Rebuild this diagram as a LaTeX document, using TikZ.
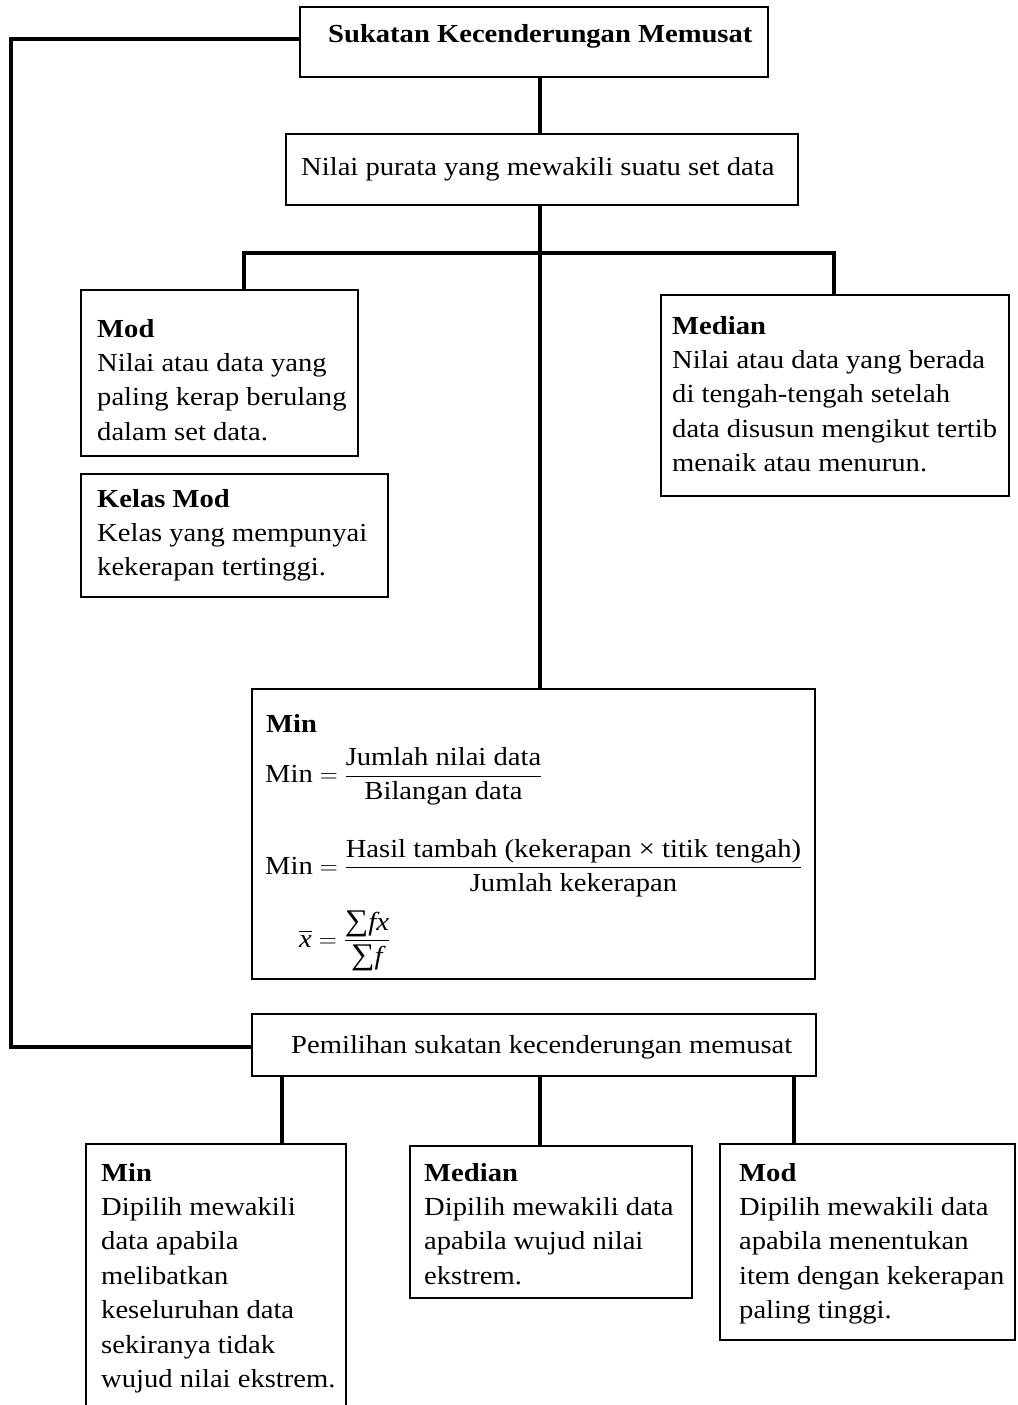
\documentclass[tikz,border=0pt]{standalone}
\usepackage{amsmath}
\usepackage{fontspec}
\setmainfont{Liberation Serif}[FakeStretch=1.1]
\newcommand\bodyfont{\fontsize{26}{34.4}\selectfont}
\begin{document}
\begin{tikzpicture}[x=1pt,y=-1pt,
  box/.style={draw, line width=1.8pt, rectangle, inner sep=0pt},
  conn/.style={line width=3.9pt, line join=miter},
  txt/.style={inner sep=0pt, align=left, font=\bodyfont},
]
\clip (0,0) rectangle (1017,1405);
\fill[white] (0,0) rectangle (1017,1405);

% boxes
\node[box, minimum width=468pt, minimum height=70pt] (title) at (534,42) {};
\node[box, minimum width=512pt, minimum height=71pt] (nilai) at (542,169.5) {};
\node[box, minimum width=277pt, minimum height=166pt] (mod) at (219.5,373) {};
\node[box, minimum width=307pt, minimum height=123pt] (kelas) at (234.5,535.5) {};
\node[box, minimum width=348pt, minimum height=201pt] (med) at (835,395.5) {};
\node[box, minimum width=563pt, minimum height=290pt] (min) at (533.5,834) {};
\node[box, minimum width=564pt, minimum height=62pt] (pem) at (534,1045) {};
\node[box, minimum width=260pt, minimum height=281pt] (bmin) at (216,1284.5) {};
\node[box, minimum width=282pt, minimum height=152pt] (bmed) at (551,1222) {};
\node[box, minimum width=295pt, minimum height=196pt] (bmod) at (867.5,1242) {};

% texts
\node[txt, anchor=base west] (titlet) at (328,43) {\textbf{Sukatan Kecenderungan Memusat}};
\node[txt, anchor=base west] (nilait) at (301,175) {Nilai purata yang mewakili suatu set data};
\node[txt, anchor=north west] (modt) at (97,312.9) {\strut\textbf{Mod}\\Nilai atau data yang\\paling kerap berulang\\dalam set data.};
\node[txt, anchor=north west] (kelast) at (97,482.9) {\strut\textbf{Kelas Mod}\\Kelas yang mempunyai\\kekerapan tertinggi.};
\node[txt, anchor=north west] (medt) at (672,309.9) {\strut\textbf{Median}\\Nilai atau data yang berada\\di tengah-tengah setelah\\data disusun mengikut tertib\\menaik atau menurun.};
\node[txt, anchor=base west] (mint) at (266,732) {\textbf{Min}};
\node[txt, anchor=base west] (f1) at (265,782.5) {$\text{Min} = \dfrac{\text{Jumlah nilai data}}{\text{Bilangan data}}$};
\node[txt, anchor=base west] (f2) at (265,874) {$\text{Min} = \dfrac{\text{Hasil tambah (kekerapan × titik tengah)}}{\text{Jumlah kekerapan}}$};
\node[txt, anchor=base west] (f3) at (299,947) {$\overline{\textit{x}} = \dfrac{\text{\fontsize{30}{34}\selectfont∑}\textit{fx}}{\text{\fontsize{30}{34}\selectfont∑}\textit{f}}$};
\node[txt, anchor=base west] (pemt) at (291,1053) {Pemilihan sukatan kecenderungan memusat};
\node[txt, anchor=north west] (bmint) at (101,1156.9) {\strut\textbf{Min}\\Dipilih mewakili\\data apabila\\melibatkan\\keseluruhan data\\sekiranya tidak\\wujud nilai ekstrem.};
\node[txt, anchor=north west] (bmedt) at (424,1156.9) {\strut\textbf{Median}\\Dipilih mewakili data\\apabila wujud nilai\\ekstrem.};
\node[txt, anchor=north west] (bmodt) at (739,1156.9) {\strut\textbf{Mod}\\Dipilih mewakili data\\apabila menentukan\\item dengan kekerapan\\paling tinggi.};

% connector coordinates
\coordinate (spine) at (540,0);
\coordinate (lc) at (11,39);
\coordinate (j1) at (244,253);
\coordinate (j2) at (834,253);
\coordinate (d1) at (282,0);
\coordinate (d3) at (794,0);

% connectors
\draw[conn] (title.south -| spine) -- (nilai.north -| spine);
\draw[conn] (nilai.south -| spine) -- (min.north -| spine);
\draw[conn] (j1 |- mod.north) -- (j1) -- (j2) -- (j2 |- med.north);
\draw[conn] (title.west |- lc) -- (lc) |- ([yshift=-2pt]pem.west);
\draw[conn] (pem.south -| d1) -- (bmin.north -| d1);
\draw[conn] (pem.south -| spine) -- (bmed.north -| spine);
\draw[conn] (pem.south -| d3) -- (bmod.north -| d3);
\end{tikzpicture}
\end{document}
